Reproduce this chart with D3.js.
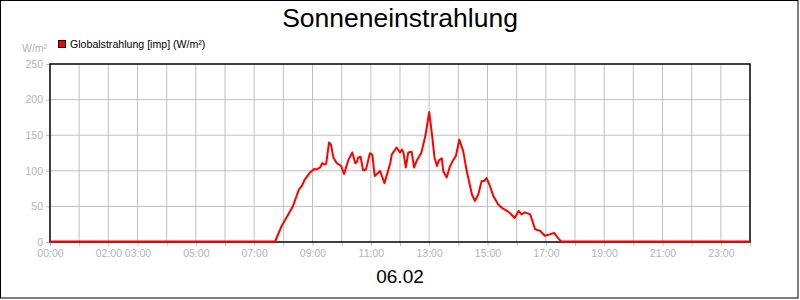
<!DOCTYPE html>
<html>
<head>
<meta charset="utf-8">
<script src="https://cdn.jsdelivr.net/npm/d3@7"></script>
<style>
    body { margin: 0; background: #fff; }
    text { font-family: "Liberation Sans", Arial, sans-serif; }
</style>
</head>
<body>
<div id="chart"></div>
<script>
// Data
const times = ["00:00", "07:43", "07:56", "08:20", "08:32", "08:38", "08:44", "08:55", "09:04", "09:08",
    "09:16", "09:20", "09:25", "09:28", "09:34", "09:38", "09:43", "09:50", "09:59", "10:05",
    "10:14", "10:22", "10:28", "10:31", "10:34", "10:39", "10:44", "10:50", "10:58", "11:03",
    "11:08", "11:13", "11:19", "11:28", "11:40", "11:43", "11:53", "12:00", "12:04", "12:07",
    "12:12", "12:17", "12:24", "12:29", "12:34", "12:41", "12:44", "12:52", "12:56", "13:00",
    "13:05", "13:11", "13:16", "13:20", "13:26", "13:29", "13:36", "13:43", "13:50", "13:55",
    "14:02", "14:10", "14:17", "14:28", "14:34", "14:41", "14:48", "14:53", "14:58", "15:05",
    "15:12", "15:22", "15:32", "15:40", "15:46", "15:56", "16:04", "16:10", "16:17", "16:28",
    "16:38", "16:48", "16:58", "17:08", "17:17", "17:26", "17:32", "24:00"];
const globalstrahlung = [0, 0, 21, 50, 73, 78, 87, 97, 102, 101,
    104, 110, 108, 109, 139, 136, 118, 110, 106, 95,
    115, 125, 110, 111, 118, 119, 100, 101, 124, 122,
    92, 95, 99, 82, 110, 122, 132, 125, 129, 125,
    104, 125, 126, 104, 113, 121, 125, 148, 164, 182,
    155, 118, 106, 114, 117, 99, 90, 106, 115, 120,
    143, 127, 100, 66, 57, 66, 85, 85, 89, 78,
    64, 52, 46, 43, 40, 33, 43, 38, 41, 38,
    17, 15, 8, 10, 12, 4, 0, 0];
const xTickLabels = ["00:00", "02:00", "03:00", "05:00", "07:00", "09:00", "11:00",
    "13:00", "15:00", "17:00", "19:00", "21:00", "23:00"];
const yTicks = [0, 50, 100, 150, 200, 250];

const svgWidth = 800, svgHeight = 300;
const plotLeft = 50, plotRight = 750, plotTop = 64, plotBottom = 242;
const gridColor = "#c0c0c0", labelColor = "#b4b4b4";

// "HH:MM" -> hours as number
function to_hours(t) {
    let parts = t.split(":");
    return +parts[0] + parts[1] / 60;
}
function hour_label(h) {
    let label = d3.format("02")(h) + ":00";
    return xTickLabels.includes(label) ? label : "";
}

const x = d3.scaleLinear().domain([0, 24]).range([plotLeft, plotRight]);
const y = d3.scaleLinear().domain([0, 250]).range([plotBottom, plotTop]);

const svg = d3.select("#chart")
    .append("svg")
    .attr("width", svgWidth)
    .attr("height", svgHeight);

// outer frame
svg.append("rect")
    .attr("x", 0.5).attr("y", 0.5)
    .attr("width", 797.5).attr("height", 297.5)
    .attr("fill", "white")
    .attr("stroke", "black");

// grid lines, one per hour and per 50 W/m²
svg.append("g")
    .selectAll("line")
    .data(d3.range(1, 24))
    .enter()
    .append("line")
        .attr("x1", d => x(d)).attr("x2", d => x(d))
        .attr("y1", plotTop).attr("y2", plotBottom)
        .attr("stroke", gridColor);
svg.append("g")
    .selectAll("line")
    .data(yTicks.slice(1, -1))
    .enter()
    .append("line")
        .attr("x1", plotLeft).attr("x2", plotRight)
        .attr("y1", d => y(d)).attr("y2", d => y(d))
        .attr("stroke", gridColor);

// x axis: tick every hour, labels only where the original has them
let xAxis = d3.axisBottom(x)
    .tickValues(d3.range(0, 25))
    .tickSize(4)
    .tickFormat(hour_label);
let gx = svg.append("g")
    .attr("transform", `translate(0,${plotBottom})`)
    .call(xAxis);
gx.select(".domain").remove();
gx.selectAll(".tick line").attr("stroke", gridColor);
gx.selectAll(".tick text")
    .attr("fill", labelColor)
    .attr("y", 8)
    .style("font-size", "10.5px")
    .style("font-family", "Liberation Sans, Arial, sans-serif");

// y axis
let yAxis = d3.axisLeft(y).tickValues(yTicks).tickSize(4).tickPadding(3);
let gy = svg.append("g")
    .attr("transform", `translate(${plotLeft},0)`)
    .call(yAxis);
gy.select(".domain").remove();
gy.selectAll(".tick line").attr("stroke", gridColor);
gy.selectAll(".tick text")
    .attr("fill", labelColor)
    .style("font-size", "10.5px")
    .style("font-family", "Liberation Sans, Arial, sans-serif");

// plot frame
svg.append("rect")
    .attr("x", plotLeft).attr("y", plotTop)
    .attr("width", plotRight - plotLeft).attr("height", plotBottom - plotTop)
    .attr("fill", "none")
    .attr("stroke", "black")
    .attr("stroke-width", 1.5);

// the series
let line = d3.line()
    .x((d, i) => x(to_hours(times[i])))
    .y(d => y(d) - 0.5);
svg.append("path")
    .datum(globalstrahlung)
    .attr("d", line)
    .attr("fill", "none")
    .attr("stroke", "#ff0000")
    .attr("stroke-width", 2)
    .attr("stroke-linejoin", "round");

// titles and legend
svg.append("text")
    .attr("x", 400).attr("y", 27)
    .attr("text-anchor", "middle")
    .style("font-size", "26.5px")
    .text("Sonneneinstrahlung");
svg.append("text")
    .attr("x", 400).attr("y", 283)
    .attr("text-anchor", "middle")
    .style("font-size", "19px")
    .text("06.02");
svg.append("text")
    .attr("x", 22).attr("y", 52)
    .attr("fill", labelColor)
    .style("font-size", "10.5px")
    .text("W/m²");
svg.append("rect")
    .attr("x", 58.5).attr("y", 40.5)
    .attr("width", 7).attr("height", 7)
    .attr("fill", "#ff0000")
    .attr("stroke", "black");
svg.append("text")
    .attr("x", 70).attr("y", 48)
    .style("font-size", "10.6px")
    .text("Globalstrahlung [imp] (W/m²)");
</script>
</body>
</html>
